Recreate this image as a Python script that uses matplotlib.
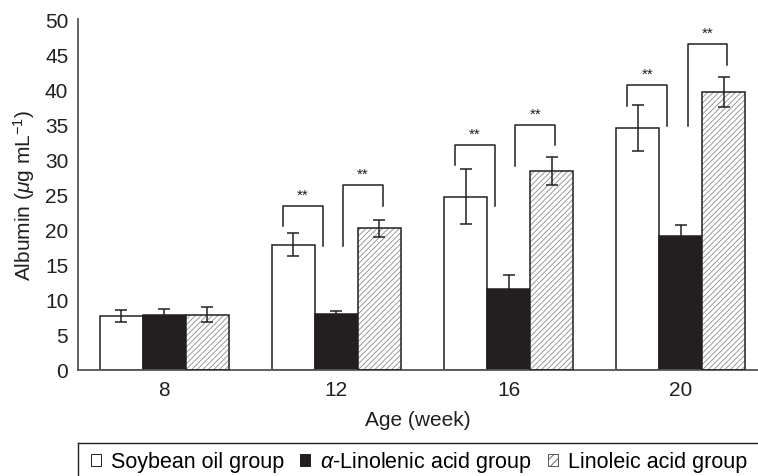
import matplotlib
matplotlib.use("Agg")
import matplotlib.pyplot as plt
from matplotlib.patches import Patch
from matplotlib.lines import Line2D
import numpy as np

plt.rcParams['font.family'] = ['Liberation Sans', 'DejaVu Sans']
plt.rcParams['mathtext.fontset'] = 'custom'
plt.rcParams['mathtext.rm'] = 'Liberation Sans'
plt.rcParams['mathtext.it'] = 'Liberation Sans:italic'
plt.rcParams['hatch.linewidth'] = 0.6

ages = ["8", "12", "16", "20"]
groups = ["Soybean oil group", r"$\alpha$-Linolenic acid group", "Linoleic acid group"]

soybean = [7.7, 17.85, 24.7, 34.5]
soybean_err = [0.8, 1.6, 3.9, 3.3]
linolenic = [7.9, 8.0, 11.5, 19.1]
linolenic_err = [0.8, 0.4, 2.0, 1.5]
linoleic = [7.9, 20.2, 28.4, 39.6]
linoleic_err = [1.1, 1.2, 2.0, 2.1]

# significance brackets (index of age group, top, left leg bottom, right leg bottom)
left_br = [(1, 23.4, 20.5, 17.6), (2, 32.1, 29.2, 23.3), (3, 40.6, 37.6, 34.8)]
right_br = [(1, 26.3, 17.6, 23.3), (2, 34.9, 29.1, 32.0), (3, 46.4, 34.8, 43.4)]

dark = "#231f20"
fig = plt.figure(figsize=(7.58, 4.77), dpi=100)
ax = fig.add_axes([78/758, 1-371/477, 1-78/758, (371-20)/477])

x = np.arange(len(ages))
w = 0.25
ax.bar(x - w, soybean, w, color="white", edgecolor=dark, linewidth=1.1, zorder=2)
ax.bar(x, linolenic, w, color=dark, edgecolor=dark, linewidth=1.1, zorder=2)
ax.bar(x + w, linoleic, w, color="white", edgecolor="#8a8a8a", hatch="//////", linewidth=0, zorder=2)
ax.bar(x + w, linoleic, w, color="none", edgecolor=dark, linewidth=1.1, zorder=3)

for xs, vals, errs in [(x - w, soybean, soybean_err), (x, linolenic, linolenic_err), (x + w, linoleic, linoleic_err)]:
    ax.errorbar(xs, vals, yerr=errs, fmt="none", ecolor=dark, elinewidth=1.1, capsize=4, capthick=1.1, zorder=4)

def bracket(i, top, lb, rb, x0, x1):
    xl = i + x0
    xr = i + x1
    ax.plot([xl, xl, xr, xr], [lb, top, top, rb], color=dark, lw=1.1, zorder=4)
    ax.text((xl + xr) / 2, top + 0.6, "**", ha="center", va="bottom", fontsize=11, color=dark)

for i, top, lb, rb in left_br:
    bracket(i, top, lb, rb, -0.31, -0.08)
for i, top, lb, rb in right_br:
    bracket(i, top, lb, rb, 0.04, 0.27)

ax.set_xlim(-0.5, 3.448)
ax.set_ylim(0, 50)
ax.set_yticks(range(0, 51, 5))
ax.set_xticks(x)
ax.set_xticklabels(ages)
ax.tick_params(length=0, labelsize=15, colors=dark)
ax.tick_params(axis="y", pad=7)
ax.tick_params(axis="x", pad=7)
for s in ["top", "right"]:
    ax.spines[s].set_visible(False)
for s in ["left", "bottom"]:
    ax.spines[s].set_color("#555555")
    ax.spines[s].set_linewidth(1.3)

ax.set_xlabel("Age (week)", fontsize=15, color=dark, labelpad=8)
ax.set_ylabel(r"Albumin ($\mu$g mL$^{-1}$)", fontsize=15, color=dark, labelpad=6)

handles = [Patch(facecolor="white", edgecolor=dark, linewidth=0.7),
           Patch(facecolor=dark, edgecolor=dark, linewidth=0.7),
           Patch(facecolor="white", edgecolor="#555555", hatch="////", linewidth=0.7)]
fig.legend(handles, groups, loc="center left", bbox_to_anchor=(91/758, 1-463/477),
           ncol=3, frameon=False, fontsize=15.5, handlelength=0.47, handleheight=0.47,
           handletextpad=0.45, columnspacing=0.75, borderaxespad=0, borderpad=0)

fig.add_artist(Line2D([78/758, 1], [1-444/477, 1-444/477], color=dark, lw=1.0))
fig.add_artist(Line2D([78/758, 78/758], [1-444/477, 0], color=dark, lw=1.0))

fig.savefig("out.png", dpi=100)
